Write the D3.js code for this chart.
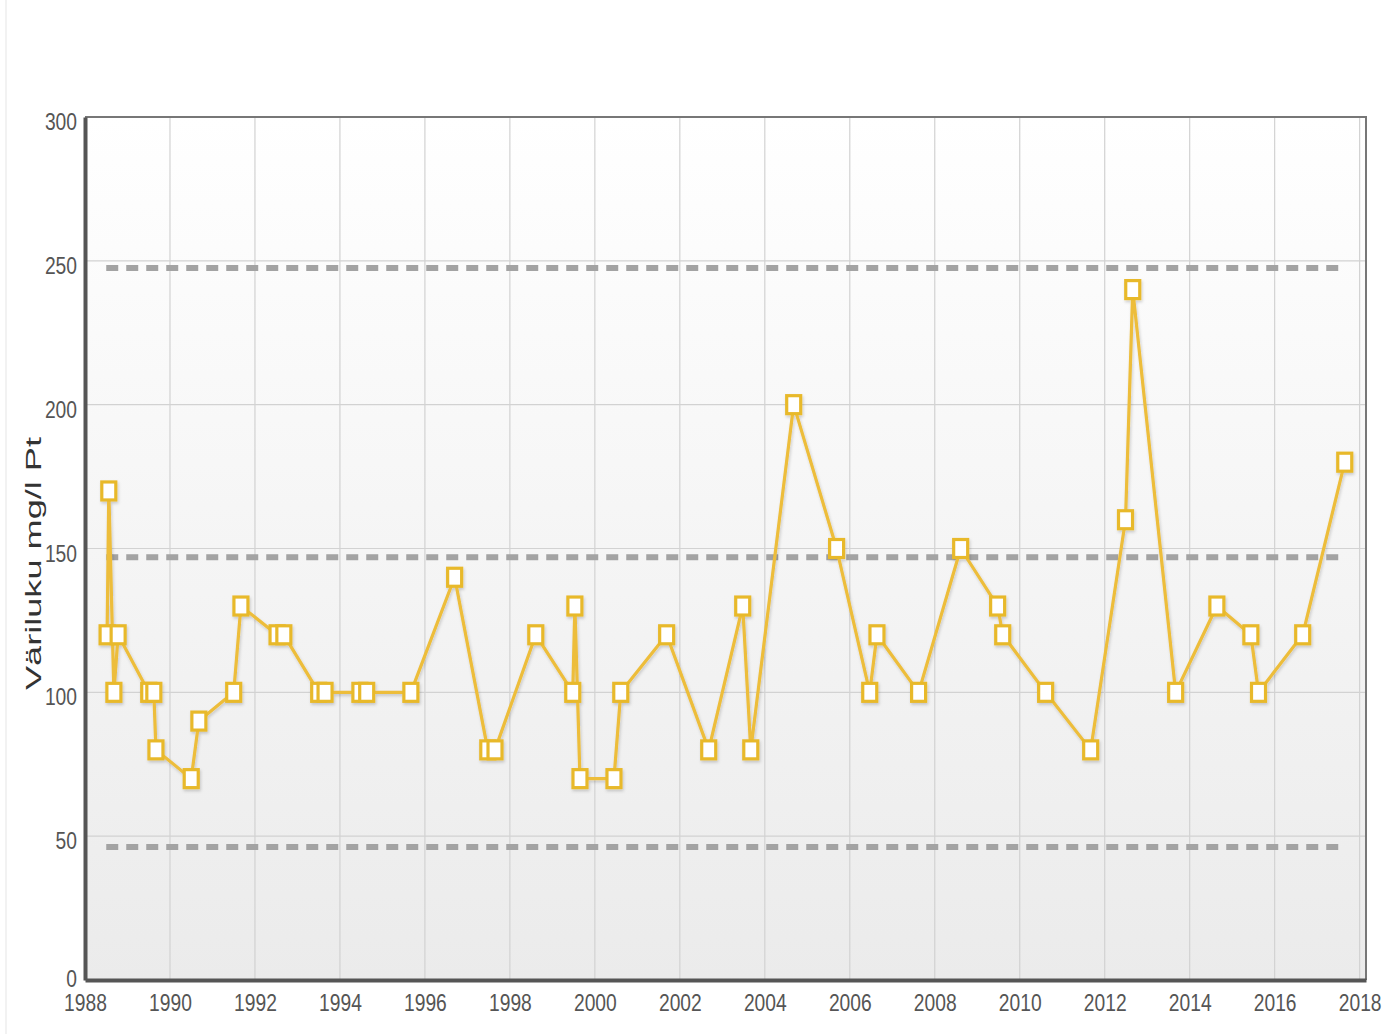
<!DOCTYPE html>
<html>
<head>
<meta charset="utf-8">
<script src="https://cdn.jsdelivr.net/npm/d3@7"></script>
<style>
  body { margin: 0; background: #fff; }
  svg { display: block; }
  .tick text { font-family: "Liberation Sans", Arial, sans-serif; font-size: 23px; fill: #555; }
</style>
</head>
<body>
<div id="chart"></div>
<script>
// sample dates as decimal years
const years = [
  1988.52, 1988.56, 1988.68, 1988.78, 1989.5, 1989.62, 1989.67, 1990.5, 1990.68, 1991.5,
  1991.67, 1992.52, 1992.68, 1993.5, 1993.65, 1994.47, 1994.63, 1995.67, 1996.7, 1997.48,
  1997.65, 1998.61, 1999.48, 1999.53, 1999.65, 2000.45, 2000.61, 2001.69, 2002.68, 2003.48,
  2003.67, 2004.68, 2005.69, 2006.47, 2006.64, 2007.62, 2008.61, 2009.48, 2009.6, 2010.61,
  2011.67, 2012.49, 2012.66, 2013.67, 2014.64, 2015.44, 2015.62, 2016.66, 2017.65
];
const colour = [
  120, 170, 100, 120, 100, 100, 80, 70, 90, 100,
  130, 120, 120, 100, 100, 100, 100, 100, 140, 80,
  80, 120, 100, 130, 70, 70, 100, 120, 80, 130,
  80, 200, 150, 100, 120, 100, 150, 130, 120, 100,
  80, 160, 240, 100, 130, 120, 100, 120, 180
];
// dashed reference levels
const refLevels = [247.5, 147, 46.2];
const refStart = 1988.5;
const refEnd = 2017.65;

const xTicks = [1988, 1990, 1992, 1994, 1996, 1998, 2000, 2002, 2004, 2006, 2008, 2010, 2012, 2014, 2016, 2018];
const yTicks = [0, 50, 100, 150, 200, 250, 300];
const yLabel = "Väriluku mg/l Pt";

const width = 1400, height = 1034;
const pLeft = 85, pRight = 1366, pTop = 117, pBottom = 980;

const svg = d3.select("#chart").append("svg")
  .attr("width", width)
  .attr("height", height);

const defs = svg.append("defs");
const grad = defs.append("linearGradient")
  .attr("id", "bg").attr("x1", 0).attr("y1", 0).attr("x2", 0).attr("y2", 1);
grad.append("stop").attr("offset", "0%").attr("stop-color", "#ffffff");
grad.append("stop").attr("offset", "100%").attr("stop-color", "#ebebeb");

const blur = defs.append("filter").attr("id", "soft");
blur.append("feGaussianBlur").attr("stdDeviation", 0.6);

const shadow = defs.append("filter").attr("id", "shadow")
  .attr("x", "-5%").attr("y", "-5%").attr("width", "110%").attr("height", "110%");
shadow.append("feDropShadow").attr("dx", 1).attr("dy", 2).attr("stdDeviation", 1.5)
  .attr("flood-color", "#000").attr("flood-opacity", 0.18);

// faint outer frame
svg.append("line").attr("x1", 6).attr("x2", 6).attr("y1", 0).attr("y2", height)
  .attr("stroke", "#eee").attr("stroke-width", 1.5);

const x = d3.scaleLinear().domain([1988, 2018.15]).range([pLeft, pRight]);
const y = d3.scaleLinear().domain([0, 300]).range([pBottom, pTop]);

svg.append("rect")
  .attr("x", pLeft).attr("y", pTop)
  .attr("width", pRight - pLeft).attr("height", pBottom - pTop)
  .attr("fill", "url(#bg)");

// grid
svg.append("g")
  .selectAll("line")
  .data(xTicks.slice(1))
  .join("line")
  .attr("x1", d => x(d)).attr("x2", d => x(d))
  .attr("y1", pTop).attr("y2", pBottom)
  .attr("stroke", "#d2d2d2").attr("stroke-width", 1.2);

svg.append("g")
  .selectAll("line")
  .data(yTicks.slice(1, -1))
  .join("line")
  .attr("x1", pLeft).attr("x2", pRight)
  .attr("y1", d => y(d)).attr("y2", d => y(d))
  .attr("stroke", "#d2d2d2").attr("stroke-width", 1.2);

// reference dashed lines
svg.append("g")
  .attr("filter", "url(#soft)")
  .selectAll("line")
  .data(refLevels)
  .join("line")
  .attr("x1", x(refStart)).attr("x2", x(refEnd))
  .attr("y1", d => y(d)).attr("y2", d => y(d))
  .attr("stroke", "#a3a3a3").attr("stroke-width", 6)
  .attr("stroke-dasharray", "12 8");

// top and right border
svg.append("path")
  .attr("d", `M${pLeft},${pTop}H${pRight}V${pBottom}`)
  .attr("fill", "none").attr("stroke", "#777").attr("stroke-width", 2);

// narrow digits: squeeze each label to about 10.7px per character
const squeeze = sel => sel
  .attr("textLength", function () { return this.textContent.length * 10.7; })
  .attr("lengthAdjust", "spacingAndGlyphs");

// axes
const yAxis = svg.append("g")
  .attr("transform", `translate(${pLeft},0)`)
  .call(d3.axisLeft(y).tickValues(yTicks).tickSize(0).tickPadding(8));
yAxis.select(".domain").attr("stroke", "#555").attr("stroke-width", 4);
yAxis.selectAll(".tick text")
  .attr("dy", d => d === 0 ? "0.3em" : "0.55em")
  .call(squeeze);

const xAxis = svg.append("g")
  .attr("transform", `translate(0,${pBottom})`)
  .call(d3.axisBottom(x).tickValues(xTicks).tickFormat(d3.format("d")).tickSize(0).tickPadding(15));
xAxis.select(".domain").attr("stroke", "#555").attr("stroke-width", 4);
xAxis.selectAll(".tick text").call(squeeze);

svg.append("text")
  .attr("transform", `translate(41,${(437 + 690) / 2}) rotate(-90)`)
  .attr("text-anchor", "middle")
  .attr("font-family", "Liberation Sans, Arial, sans-serif")
  .attr("font-size", 22)
  .attr("fill", "#333")
  .attr("textLength", 253)
  .attr("lengthAdjust", "spacingAndGlyphs")
  .text(yLabel);

// series
const pts = years.map((d, i) => [d, colour[i]]);
const line = d3.line().x(d => x(d[0])).y(d => y(d[1]));

const series = svg.append("g").attr("filter", "url(#shadow)");
series.append("path")
  .datum(pts)
  .attr("fill", "none")
  .attr("stroke", "#edbd3a")
  .attr("stroke-width", 3.2)
  .attr("stroke-linejoin", "round")
  .attr("d", line);

series.selectAll("rect")
  .data(pts)
  .join("rect")
  .attr("x", d => x(d[0]) - 7)
  .attr("y", d => y(d[1]) - 9)
  .attr("width", 14)
  .attr("height", 18)
  .attr("fill", "#fff")
  .attr("stroke", "#e8b92c")
  .attr("stroke-width", 3.2);
</script>
</body>
</html>
